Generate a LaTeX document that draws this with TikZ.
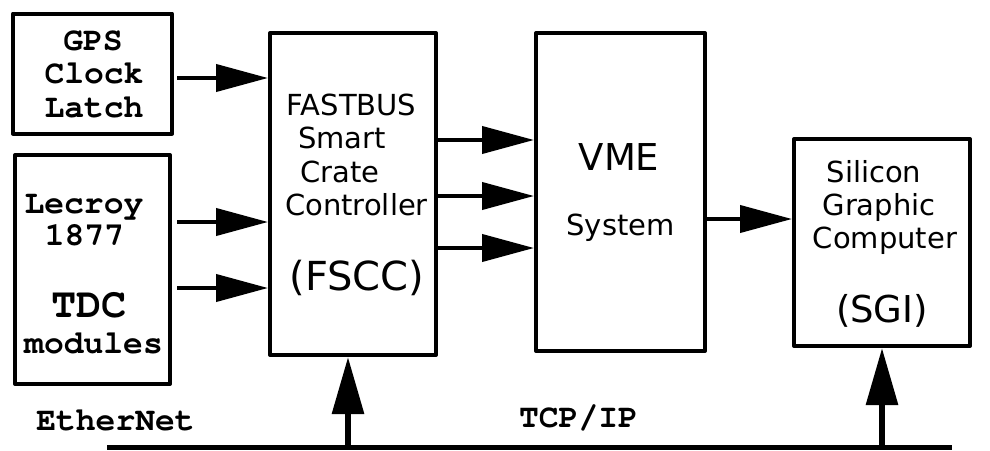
\documentclass[tikz,border=0pt]{standalone}
\usepackage{fontspec}
\usetikzlibrary{arrows.meta}
\newfontfamily\figmono{TeX Gyre Cursor}
\newfontfamily\figsans{DejaVu Sans}
\tikzset{
  box/.style={draw, line width=4pt, line join=round, rectangle, inner sep=0pt},
  mtxt/.style={font=\figmono\bfseries\fontsize{33}{33}\selectfont, anchor=base, inner sep=0pt},
  mbig/.style={font=\figmono\bfseries\fontsize{42}{42}\selectfont, anchor=base, inner sep=0pt},
  stxt/.style={font=\figsans\fontsize{29}{29}\selectfont, anchor=base, inner sep=0pt},
  sbig/.style={font=\figsans\fontsize{40}{40}\selectfont, anchor=base, inner sep=0pt},
  arr/.style={line width=4pt, -{Triangle[length=52pt,width=27pt]}},
  uparr/.style={line width=6pt, -{Triangle[length=57pt,width=31pt]}},
}
\begin{document}
\begin{tikzpicture}[x=1pt,y=-1pt]
\useasboundingbox (0,0) rectangle (990,450);
% boxes
\node[box, minimum width=159pt, minimum height=120pt] (gps) at (92.5,73.5) {};
\node[box, minimum width=155pt, minimum height=229pt] (tdc) at (92.5,269.5) {};
\node[box, minimum width=166pt, minimum height=322pt] (fscc) at (353,194) {};
\node[box, minimum width=169pt, minimum height=318pt] (vme) at (620.5,192) {};
\node[box, minimum width=176pt, minimum height=207pt] (sgi) at (882,242.5) {};
% texts
\node[mtxt] (t-gps) at (93,50) {GPS};
\node[mtxt] (t-clock) at (94,83) {Clock};
\node[mtxt] (t-latch) at (94,117) {Latch};
\node[mtxt] (t-lecroy) at (84,213) {Lecroy};
\node[mtxt] (t-1877) at (84.5,245) {1877};
\node[mbig] (t-tdc) at (89,317) {TDC};
\node[mtxt] (t-modules) at (93.5,353) {modules};
\node[mtxt] (t-ether) at (115.5,430) {EtherNet};
\node[mtxt] (t-tcp) at (578.5,427) {TCP/IP};
\node[stxt] (t-fastbus) at (351.5,115) {FASTBUS};
\node[stxt] (t-smart) at (342,148) {Smart};
\node[stxt] (t-crate) at (340,182) {Crate};
\node[stxt] (t-contr) at (356.5,215) {Controller};
\node[sbig] (t-fscc) at (357,290) {(FSCC)};
\node[sbig, font=\figsans\fontsize{37}{37}\selectfont] (t-vme) at (619,170) {VME};
\node[stxt] (t-system) at (620.5,235) {System};
\node[stxt] (t-silicon) at (874,182) {Silicon};
\node[stxt] (t-graphic) at (879,215) {Graphic};
\node[stxt] (t-computer) at (885,248) {Computer};
\node[sbig, font=\figsans\fontsize{37}{37}\selectfont] (t-sgi) at (882,322) {(SGI)};
% levels
\coordinate (y1) at (0,78);
\coordinate (y2) at (0,222);
\coordinate (y3) at (0,288);
\coordinate (y4) at (0,140);
\coordinate (y5) at (0,196);
\coordinate (y6) at (0,248);
\coordinate (y7) at (0,219);
% arrows
\draw[arr] ([xshift=3pt]gps.east |- y1) -- (fscc.west |- y1);
\draw[arr] ([xshift=5pt]tdc.east |- y2) -- (fscc.west |- y2);
\draw[arr] ([xshift=5pt]tdc.east |- y3) -- (fscc.west |- y3);
\draw[arr] (fscc.east |- y4) -- (vme.west |- y4);
\draw[arr] (fscc.east |- y5) -- (vme.west |- y5);
\draw[arr] (fscc.east |- y6) -- (vme.west |- y6);
\draw[arr] (vme.east |- y7) -- (sgi.west |- y7);
% bus
\coordinate (busl) at (107,447);
\coordinate (busr) at (952,447);
\coordinate (tap1) at (348,447);
\coordinate (tap2) at (882,447);
\draw[line width=5pt] (busl) -- (busr);
\draw[uparr] (tap1) -- (tap1 |- fscc.south);
\draw[uparr] (tap2) -- (tap2 |- sgi.south);
\end{tikzpicture}
\end{document}
